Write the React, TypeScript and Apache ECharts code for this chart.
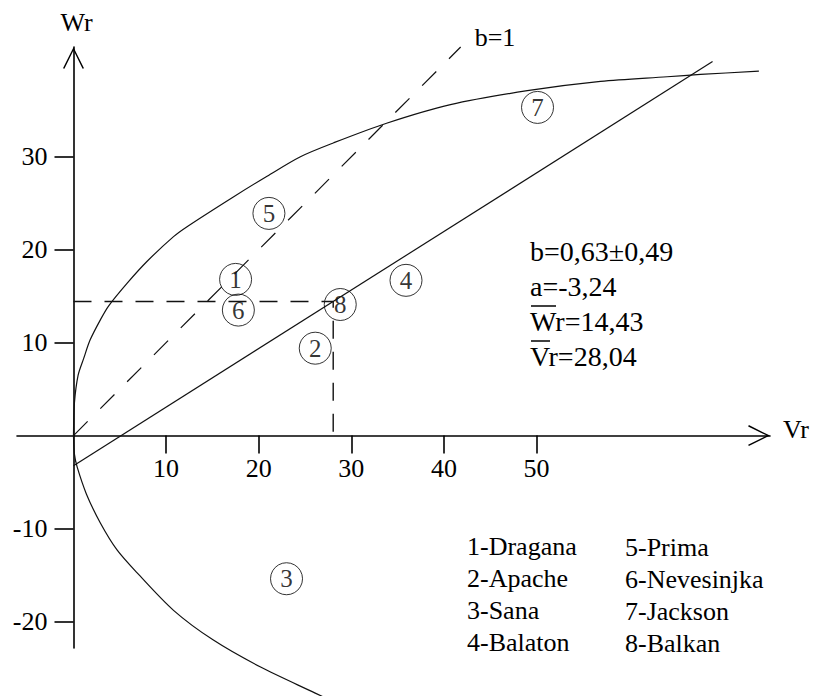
import React, { useEffect, useRef } from "react";
import * as echarts from "echarts";

// Genotypes: number, name and (Vr, Wr) coordinates
const genotypeIds = [1, 2, 3, 4, 5, 6, 7, 8];
const genotypeNames = ["Dragana", "Apache", "Sana", "Balaton", "Prima", "Nevesinjka", "Jackson", "Balkan"];
const vrValues = [17.5, 26.1, 23.0, 35.9, 21.1, 17.8, 50.1, 28.8];
const wrValues = [16.8, 9.4, -15.4, 16.7, 23.9, 13.5, 35.3, 14.1];

// Regression statistics
const slopeB = 0.63;
const slopeSE = 0.49;
const interceptA = -3.24;
const meanWr = 14.43;
const meanVr = 28.04;
const regressionEndVr = 69;
const unitSlopeEnd = 41.8;

// Limiting parabola, traced points (upper and lower branch)
const upperVr = [0, 0.1, 0.5, 1.1, 1.8, 2.9, 3.8, 5.8, 7.9, 10.8, 12.3, 17.3, 20.9, 24.5, 28.1, 33.8, 40.7, 49.0, 56.9, 64.1, 67.7, 74.0];
const upperWr = [0, 3.5, 6.5, 8.3, 10.3, 12.45, 13.96, 16.4, 18.7, 21.4, 22.5, 25.7, 27.9, 30.0, 31.5, 33.6, 35.6, 37.1, 38.1, 38.6, 38.85, 39.2];
const lowerVr = [0, 0.1, 0.4, 1.4, 2.9, 4.7, 6.9, 10.8, 15.1, 20.2, 26.1, 28.0];
const lowerWr = [0, -2.0, -3.4, -6.3, -9.4, -12.3, -14.8, -18.8, -22.0, -24.9, -27.7, -28.6];

// Axis ticks
const xTicks = [10, 20, 30, 40, 50];
const yTicks = [-20, -10, 10, 20, 30];

const FONT = '"Liberation Serif", "Times New Roman", serif';
const ARROW = "path://M10.5,0 L21,21 L19.6,21.7 L10.5,3 L1.4,21.7 L0,21 Z";

const GRID = { left: 17, right: 44, top: 47, bottom: 48 };
const WIDTH = 814;
const HEIGHT = 696;

const fmt = (v: number) => v.toFixed(2).replace(".", ",");

export default function App() {
  const ref = useRef<HTMLDivElement>(null);

  useEffect(() => {
    if (!ref.current) return;
    const chart = echarts.init(ref.current, undefined, { renderer: "svg" });

    const zip = (xs: number[], ys: number[]) => xs.map((x, i) => [x, ys[i]]);
    const points = genotypeIds.map((id, i) => [vrValues[i], wrValues[i], id]);

    const axisLineStyle = { color: "#000", width: 1.6 };
    const labelStyle = { color: "#000", fontSize: 26, fontFamily: FONT };

    const statLines = [
      `b=${fmt(slopeB)}±${fmt(slopeSE)}`,
      `a=${fmt(interceptA)}`,
      `Wr=${fmt(meanWr)}`,
      `Vr=${fmt(meanVr)}`,
    ];
    const statX = 530;
    const statY0 = 251;
    const statStep = 35;
    const statFont = `28px ${FONT}`;

    const graphics: any[] = [];
    statLines.forEach((t, i) => {
      graphics.push({
        type: "text",
        x: statX,
        y: statY0 + i * statStep,
        style: { text: t, fill: "#000", font: statFont, align: "left", verticalAlign: "middle" },
      });
    });
    // bars over the mean symbols
    graphics.push({
      type: "line",
      shape: { x1: statX + 1, y1: statY0 + 2 * statStep - 15, x2: statX + 26, y2: statY0 + 2 * statStep - 15 },
      style: { stroke: "#000", lineWidth: 1.5 },
    });
    graphics.push({
      type: "line",
      shape: { x1: statX + 1, y1: statY0 + 3 * statStep - 15, x2: statX + 20, y2: statY0 + 3 * statStep - 15 },
      style: { stroke: "#000", lineWidth: 1.5 },
    });

    genotypeNames.forEach((name, i) => {
      const col = i < 4 ? 0 : 1;
      const row = i % 4;
      graphics.push({
        type: "text",
        x: col === 0 ? 467 : 625,
        y: (col === 0 ? 546 : 547) + row * 32,
        style: {
          text: `${genotypeIds[i]}-${name}`,
          fill: "#000",
          font: `26px ${FONT}`,
          align: "left",
          verticalAlign: "middle",
        },
      });
    });

    const arrowLine = {
      onZero: false,
      lineStyle: axisLineStyle,
      symbol: ["none", ARROW],
      symbolSize: [21, 22],
      symbolOffset: [0, -11],
    };

    chart.setOption({
      animation: false,
      backgroundColor: "#fff",
      grid: { ...GRID, containLabel: false, outerBoundsMode: "none" },
      xAxis: {
        type: "value",
        position: "bottom",
        min: -6.1,
        max: 75.2,
        name: "Vr",
        nameLocation: "end",
        nameGap: 13,
        nameTextStyle: { ...labelStyle, verticalAlign: "bottom", lineHeight: 13 },
        axisLine: arrowLine,
        axisTick: { customValues: xTicks, length: 18, lineStyle: axisLineStyle },
        axisLabel: { customValues: xTicks, margin: 20, ...labelStyle },
        splitLine: { show: false },
      },
      yAxis: {
        type: "value",
        position: "left",
        min: -22.85,
        max: 41.8,
        name: "Wr",
        nameLocation: "end",
        nameGap: 12,
        nameTextStyle: { ...labelStyle, padding: [0, 0, 0, 6] },
        axisLine: arrowLine,
        axisTick: { customValues: yTicks, length: 19, lineStyle: axisLineStyle },
        axisLabel: { customValues: yTicks, margin: 26, ...labelStyle },
        splitLine: { show: false },
      },
      series: [
        {
          name: "parabola-upper",
          type: "line",
          data: zip(upperVr, upperWr),
          smooth: 0.3,
          symbol: "none",
          clip: false,
          lineStyle: { color: "#111", width: 1.2 },
        },
        {
          name: "parabola-lower",
          type: "line",
          data: zip(lowerVr, lowerWr),
          smooth: 0.3,
          symbol: "none",
          clip: false,
          lineStyle: { color: "#111", width: 1.2 },
        },
        {
          name: "regression",
          type: "line",
          data: [
            [0, interceptA],
            [regressionEndVr, interceptA + slopeB * regressionEndVr],
          ],
          symbol: "none",
          clip: false,
          lineStyle: { color: "#111", width: 1.2 },
        },
        {
          name: "unit-slope",
          type: "line",
          data: [
            [0, 0],
            [unitSlopeEnd, unitSlopeEnd],
          ],
          symbol: "none",
          clip: false,
          lineStyle: { color: "#111", width: 1.2, type: [20, 18] },
          endLabel: {
            show: true,
            formatter: "b=1",
            offset: [6, -10],
            ...labelStyle,
          },
        },
        {
          name: "means",
          type: "line",
          data: [
            [0, meanWr],
            [meanVr, meanWr],
            [meanVr, 0],
          ],
          symbol: "none",
          clip: false,
          lineStyle: { color: "#111", width: 1.4, type: [18, 13] },
        },
        {
          name: "genotypes",
          type: "scatter",
          data: points,
          symbol: "circle",
          symbolSize: 32,
          clip: false,
          itemStyle: { color: "rgba(0,0,0,0)", borderColor: "#000", borderWidth: 1 },
          label: {
            show: true,
            position: "inside",
            formatter: (p: any) => String(p.data[2]),
            color: "#000",
            fontSize: 25,
            fontFamily: FONT,
          },
        },
      ],
      graphic: graphics,
    });

    // Move both axes so that they cross at the origin (0, 0)
    const origin = chart.convertToPixel({ gridIndex: 0 }, [0, 0]) as number[];
    if (origin) {
      chart.setOption({
        xAxis: { offset: origin[1] - (HEIGHT - GRID.bottom) },
        yAxis: { offset: GRID.left - origin[0] },
      });
    }

    return () => chart.dispose();
  }, []);

  return (
    <div
      ref={ref}
      style={{ position: "fixed", left: 0, top: 0, width: WIDTH, height: HEIGHT, background: "#fff" }}
    />
  );
}
